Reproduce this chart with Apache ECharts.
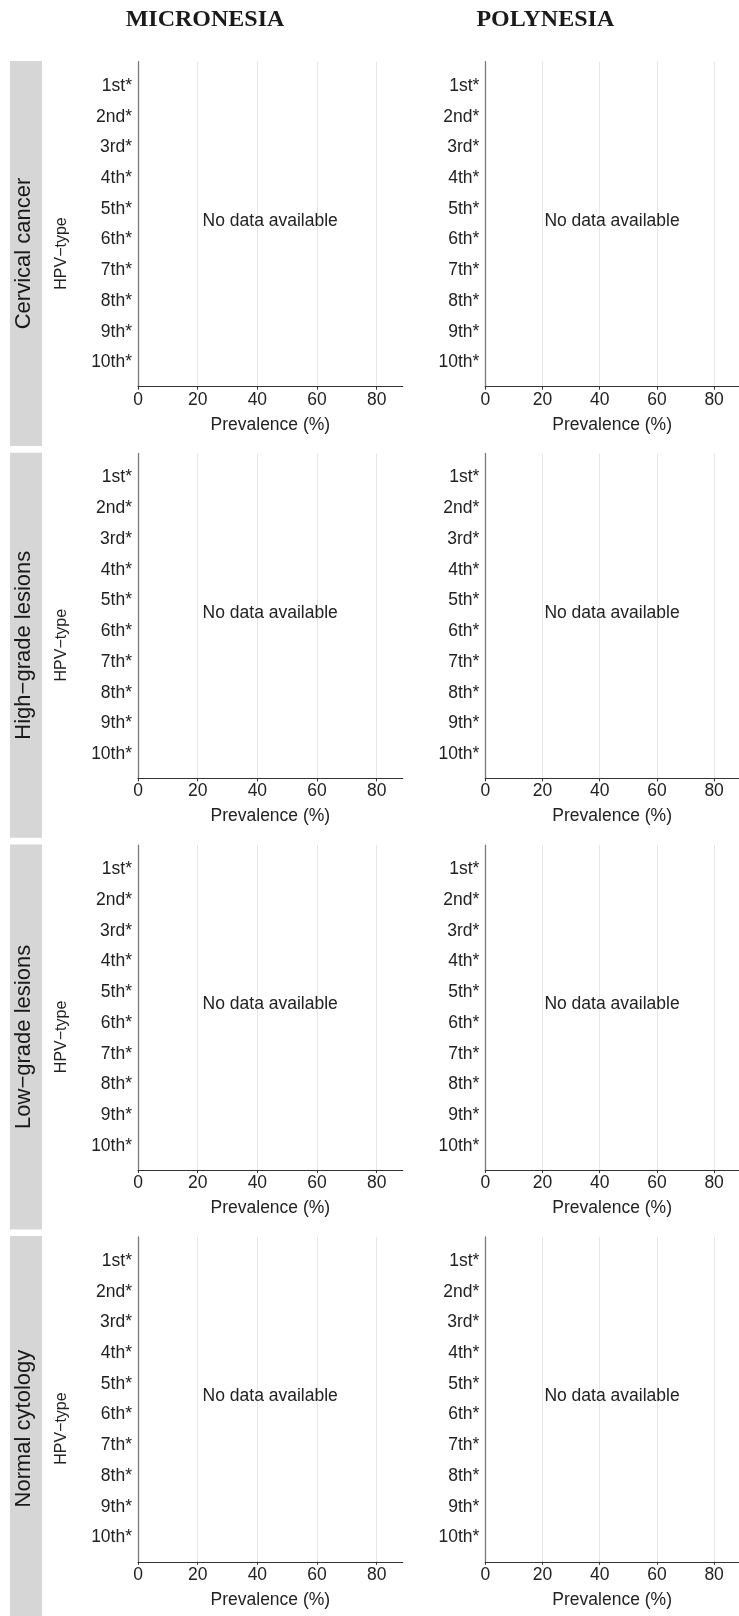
<!DOCTYPE html>
<html>
<head>
<meta charset="utf-8">
<title>HPV type prevalence – Micronesia and Polynesia</title>
<script src="https://cdn.jsdelivr.net/npm/echarts@6/dist/echarts.min.js"></script>
<style>
  html, body { margin: 0; padding: 0; background: #ffffff; }
  #chart { width: 739px; height: 1616px; }
</style>
</head>
<body>
<div id="chart"></div>
<script>
// Column (region) and row (cytology group) facets
const regions = ['MICRONESIA', 'POLYNESIA'];
const lesionGroups = ['Cervical cancer', 'High\u2212grade lesions', 'Low\u2212grade lesions', 'Normal cytology'];

// Ranked HPV types shown on every y axis
const hpvRanks = ['1st*', '2nd*', '3rd*', '4th*', '5th*', '6th*', '7th*', '8th*', '9th*', '10th*'];
const rankPositions = [1, 2, 3, 4, 5, 6, 7, 8, 9, 10];

// Prevalence axis ticks (%)
const prevalenceTicks = [0, 20, 40, 60, 80];

// No prevalence values are reported for either region
const micronesiaPrevalence = [[], [], [], []];
const polynesiaPrevalence = [[], [], [], []];

// Placement of the "no data" note in data units (prevalence %, rank position)
const noDataNote = 'No data available';
const notePosition = [44.3, 5.4];

// ---- layout ----
const W = 739, H = 1616;
const FONT = '"Liberation Sans", Arial, Helvetica, sans-serif';
const TEXT = '#222222';
const rowTop0 = 61.7, rowPitch = 391.7, plotH = 325;
const colLeft = [138, 485.3], plotW = 264.7;
const X_MAX = 88.7, Y_MIN = 0.21, Y_MAX = 10.79;
const stripX = 10, stripW = 32, stripH = 385;

const grids = [], xAxes = [], yAxes = [], series = [], graphics = [];
const allData = [micronesiaPrevalence, polynesiaPrevalence];

lesionGroups.forEach((group, r) => {
  const top = rowTop0 + r * rowPitch;
  regions.forEach((region, c) => {
    const idx = grids.length;
    grids.push({ left: colLeft[c], top: top, width: plotW, height: plotH, containLabel: false });
    xAxes.push({
      type: 'value', gridIndex: idx, min: 0, max: X_MAX,
      name: 'Prevalence (%)',
      nameLocation: 'middle', nameGap: 29,
      nameTextStyle: { fontFamily: FONT, fontSize: 17.5, color: TEXT },
      axisLine: { onZero: false, lineStyle: { color: '#333333', width: 1.2 } },
      axisTick: { show: true, length: 3, customValues: prevalenceTicks, lineStyle: { color: '#333333', width: 1 } },
      axisLabel: { customValues: prevalenceTicks, margin: 4, fontFamily: FONT, fontSize: 17.5, color: TEXT },
      splitLine: { show: true, lineStyle: { color: '#e6e6e6', width: 1 } }
    });
    yAxes.push({
      type: 'value', gridIndex: idx, inverse: true, min: Y_MIN, max: Y_MAX,
      axisLine: { show: true, onZero: false, lineStyle: { color: '#7a7a7a', width: 1.3 } },
      axisTick: { show: false },
      splitLine: { show: false },
      axisLabel: {
        customValues: rankPositions, margin: 6,
        fontFamily: FONT, fontSize: 17.5, color: TEXT,
        formatter: v => hpvRanks[Math.round(v) - 1] || ''
      }
    });
    // Prevalence bars (empty: nothing reported)
    series.push({
      type: 'bar', xAxisIndex: idx, yAxisIndex: idx,
      data: allData[c][r], itemStyle: { color: '#555' }, silent: true
    });
    // "No data available" note placed through the axes
    series.push({
      type: 'scatter', xAxisIndex: idx, yAxisIndex: idx,
      symbolSize: 0, silent: true,
      itemStyle: { opacity: 1 },
      data: [notePosition],
      label: {
        show: true, position: 'inside', formatter: noDataNote,
        fontFamily: FONT, fontSize: 17.5, color: TEXT, opacity: 1
      }
    });
  });

  // Row strip on the left
  const sTop = top - 0.7;
  const sH = r === lesionGroups.length - 1 ? H - sTop : stripH;
  graphics.push({
    type: 'rect', left: stripX, top: sTop, z: 0,
    shape: { width: stripW, height: sH },
    style: { fill: '#d6d6d6' }
  });
  graphics.push({
    type: 'text', x: 23.5, y: sTop + stripH / 2, rotation: Math.PI / 2, z: 1,
    style: {
      text: group, fontFamily: FONT, fontSize: 22, fill: '#1a1a1a',
      align: 'center', verticalAlign: 'middle'
    }
  });
  // Shared y-axis title for the row
  graphics.push({
    type: 'text', x: 61.5, y: sTop + stripH / 2, rotation: Math.PI / 2, z: 1,
    style: {
      text: 'HPV\u2212type', fontFamily: FONT, fontSize: 16, fill: TEXT,
      align: 'center', verticalAlign: 'middle'
    }
  });
});

// Column headings
const headingX = [205, 545.3];
regions.forEach((region, c) => {
  graphics.push({
    type: 'text', x: headingX[c], y: 19.5, z: 1,
    style: {
      text: region, fontFamily: '"Liberation Serif", "Times New Roman", serif',
      fontWeight: 'bold', fontSize: 24, fill: '#1a1a1a',
      align: 'center', verticalAlign: 'middle'
    }
  });
});

const chart = echarts.init(document.getElementById('chart'), null, { renderer: 'canvas', width: W, height: H });
chart.setOption({
  backgroundColor: '#ffffff',
  animation: false,
  grid: grids,
  xAxis: xAxes,
  yAxis: yAxes,
  series: series,
  graphic: graphics
});
</script>
</body>
</html>
